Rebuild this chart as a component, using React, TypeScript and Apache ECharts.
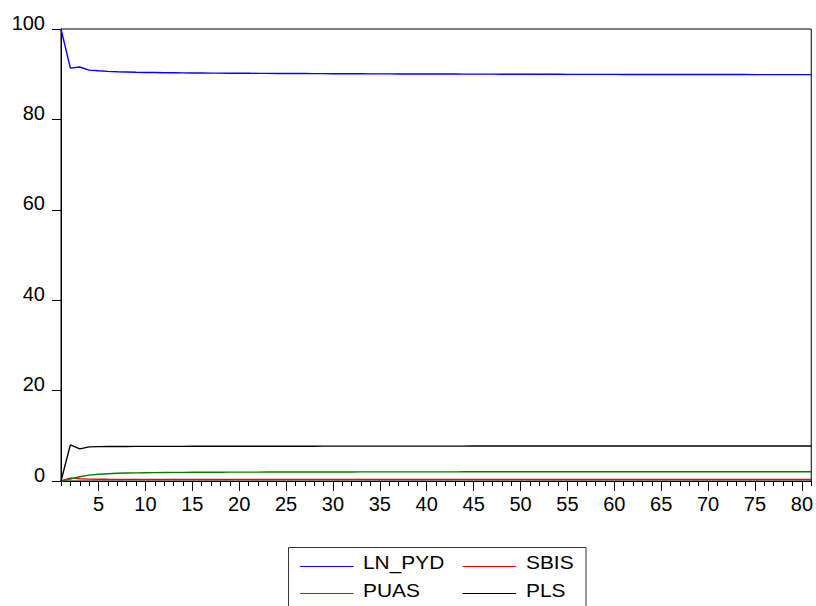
import React, { useEffect, useRef } from "react";
import * as echarts from "echarts";

const periods: string[] = Array.from({ length: 81 }, (_, i) => String(i + 1));

const lnPyd: number[] = [
  100, 91.35, 91.6, 90.9, 90.75, 90.62, 90.54, 90.48, 90.43, 90.39,
  90.36, 90.33, 90.31, 90.29, 90.27, 90.25, 90.24, 90.23, 90.22, 90.21,
  90.2, 90.19, 90.18, 90.17, 90.16, 90.15, 90.14, 90.13, 90.12, 90.11,
  90.1, 90.1, 90.09, 90.08, 90.07, 90.07, 90.06, 90.05, 90.05, 90.04,
  90.04, 90.03, 90.03, 90.02, 90.02, 90.01, 90.01, 90.0, 90.0, 89.99,
  89.99, 89.98, 89.98, 89.98, 89.97, 89.97, 89.97, 89.96, 89.96, 89.96,
  89.95, 89.95, 89.95, 89.94, 89.94, 89.94, 89.93, 89.93, 89.93, 89.93,
  89.92, 89.92, 89.92, 89.92, 89.91, 89.91, 89.91, 89.91, 89.9, 89.9, 89.9,
];

const sbis: number[] = [
  0, 0.65, 0.5, 0.42, 0.4, 0.38, 0.37, 0.36, 0.36, 0.35,
  0.35, 0.35, 0.35, 0.35, 0.35, 0.35, 0.35, 0.35, 0.35, 0.35,
  0.35, 0.35, 0.35, 0.35, 0.35, 0.35, 0.35, 0.35, 0.35, 0.35,
  0.35, 0.35, 0.35, 0.35, 0.35, 0.35, 0.35, 0.35, 0.35, 0.35,
  0.35, 0.35, 0.35, 0.35, 0.35, 0.35, 0.35, 0.35, 0.35, 0.35,
  0.35, 0.35, 0.35, 0.35, 0.35, 0.35, 0.35, 0.35, 0.35, 0.35,
  0.35, 0.35, 0.35, 0.35, 0.35, 0.35, 0.35, 0.35, 0.35, 0.35,
  0.35, 0.35, 0.35, 0.35, 0.35, 0.35, 0.35, 0.35, 0.35, 0.35, 0.35,
];

const puas: number[] = [
  0, 0.45, 0.95, 1.3, 1.5, 1.62, 1.7, 1.76, 1.8, 1.83,
  1.86, 1.88, 1.9, 1.91, 1.92, 1.93, 1.94, 1.95, 1.96, 1.96,
  1.97, 1.97, 1.98, 1.98, 1.98, 1.99, 1.99, 1.99, 2.0, 2.0,
  2.0, 2.0, 2.01, 2.01, 2.01, 2.01, 2.01, 2.02, 2.02, 2.02,
  2.02, 2.02, 2.02, 2.03, 2.03, 2.03, 2.03, 2.03, 2.03, 2.03,
  2.04, 2.04, 2.04, 2.04, 2.04, 2.04, 2.04, 2.04, 2.04, 2.05,
  2.05, 2.05, 2.05, 2.05, 2.05, 2.05, 2.05, 2.05, 2.05, 2.05,
  2.05, 2.05, 2.05, 2.05, 2.05, 2.05, 2.05, 2.05, 2.05, 2.05, 2.05,
];

const pls: number[] = [
  0, 8.0, 7.1, 7.55, 7.6, 7.62, 7.63, 7.64, 7.65, 7.66,
  7.66, 7.67, 7.67, 7.67, 7.68, 7.68, 7.68, 7.68, 7.69, 7.69,
  7.69, 7.69, 7.7, 7.7, 7.7, 7.7, 7.7, 7.7, 7.71, 7.71,
  7.71, 7.71, 7.71, 7.71, 7.71, 7.72, 7.72, 7.72, 7.72, 7.72,
  7.72, 7.72, 7.72, 7.72, 7.73, 7.73, 7.73, 7.73, 7.73, 7.73,
  7.73, 7.73, 7.73, 7.73, 7.73, 7.74, 7.74, 7.74, 7.74, 7.74,
  7.74, 7.74, 7.74, 7.74, 7.74, 7.74, 7.74, 7.74, 7.75, 7.75,
  7.75, 7.75, 7.75, 7.75, 7.75, 7.75, 7.75, 7.75, 7.75, 7.75, 7.75,
];

const seriesNames = ["LN_PYD", "SBIS", "PUAS", "PLS"];
const seriesColors = ["#0000ff", "#ff0000", "#008000", "#000000"];
const seriesData = [lnPyd, sbis, puas, pls];

const FONT = "'Liberation Sans', Arial, sans-serif";

export default function App() {
  const ref = useRef<HTMLDivElement>(null);

  useEffect(() => {
    document.body.style.margin = "0";
    if (!ref.current) return;
    const chart = echarts.init(ref.current, null, { renderer: "svg" });

    const legendPos = [
      { lx: 300, tx: 363, y: 562.5, ly: 566.5 },
      { lx: 462.5, tx: 526, y: 562.5, ly: 566.5 },
      { lx: 300, tx: 363, y: 590, ly: 593.5 },
      { lx: 462.5, tx: 526, y: 590, ly: 593.5 },
    ];
    const legendGraphics: any[] = [
      {
        type: "rect",
        shape: { x: 288.5, y: 547.5, width: 297.5, height: 80 },
        style: { fill: "#fff", stroke: "#333", lineWidth: 1 },
        z: 10,
      },
    ];
    [0, 1, 2, 3].forEach((si, k) => {
      const p = legendPos[k];
      legendGraphics.push({
        type: "line",
        shape: { x1: p.lx, y1: p.ly, x2: p.lx + 53.5, y2: p.ly },
        style: { stroke: seriesColors[si], lineWidth: 1 },
        z: 11,
      });
      legendGraphics.push({
        type: "text",
        x: p.tx,
        y: p.y,
        scaleX: 1.1,
        style: {
          text: seriesNames[si],
          fontSize: 19,
          fontFamily: FONT,
          fill: "#000",
          verticalAlign: "middle",
          align: "left",
        },
        z: 11,
      });
    });

    chart.setOption({
      animation: false,
      backgroundColor: "#fff",
      textStyle: { fontFamily: FONT },
      grid: {
        left: 61,
        right: 3,
        top: 29,
        bottom: 125,
        show: true,
        borderColor: "#000",
        borderWidth: 1,
        containLabel: false,
      },
      xAxis: [
        {
          type: "category",
          data: periods,
          boundaryGap: false,
          position: "bottom",
          axisLine: { show: true, lineStyle: { color: "#000", width: 1 } },
          axisTick: { show: true, interval: 0, length: 5, lineStyle: { color: "#000" } },
          axisLabel: {
            interval: (i: number) => (i + 1) % 5 === 0 && i + 1 <= 80,
            fontSize: 20,
            color: "#000",
            fontFamily: FONT,
            margin: 13,
          },
          splitLine: { show: false },
        },
        {
          type: "category",
          data: periods,
          boundaryGap: false,
          position: "bottom",
          axisLine: { show: false },
          axisTick: {
            show: true,
            interval: (i: number) => (i + 1) % 5 === 0,
            length: 10,
            lineStyle: { color: "#000" },
          },
          axisLabel: { show: false },
          splitLine: { show: false },
        },
      ],
      yAxis: {
        type: "value",
        min: 0,
        max: 100,
        interval: 20,
        axisLine: { show: true, lineStyle: { color: "#000", width: 1 } },
        axisTick: { show: true, length: 9, lineStyle: { color: "#000" } },
        axisLabel: {
          fontSize: 20,
          color: "#000",
          fontFamily: FONT,
          margin: 16,
          verticalAlign: "bottom",
          lineHeight: 13,
        },
        splitLine: { show: false },
      },
      series: seriesNames.map((name, i) => ({
        name,
        type: "line",
        xAxisIndex: 0,
        data: seriesData[i],
        showSymbol: false,
        symbol: "none",
        lineStyle: { color: seriesColors[i], width: 1.4 },
        itemStyle: { color: seriesColors[i] },
        z: i === 0 ? 5 : 4,
      })),
      graphic: legendGraphics,
    });

    return () => chart.dispose();
  }, []);

  return <div ref={ref} style={{ width: 816, height: 606 }} />;
}
